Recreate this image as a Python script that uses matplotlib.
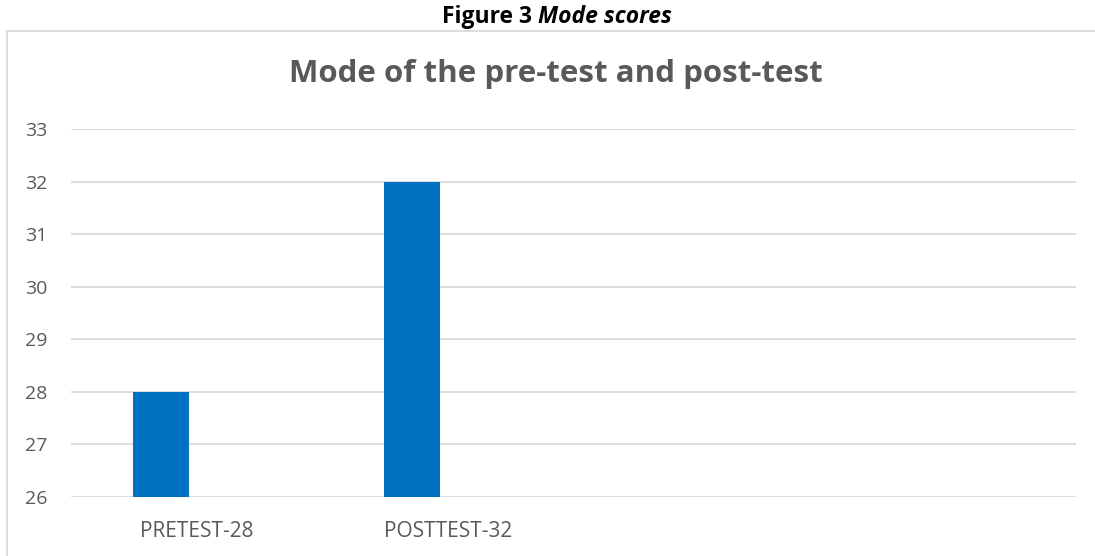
import numpy as np
import matplotlib.pyplot as plt
from matplotlib.patches import Rectangle

# data
categories = ["PRETEST-28", "POSTTEST-32", "", ""]
mode_scores = [28, 32, np.nan, np.nan]
y_ticks = [26, 27, 28, 29, 30, 31, 32, 33]

plt.rcParams['font.family'] = ['Open Sans', 'DejaVu Sans']

fig = plt.figure(figsize=(10.95, 5.56), dpi=100)
W, H = 1095, 556

# outer chart frame (right and bottom edges fall outside the picture)
frame = Rectangle((7 / W, -0.05), 1.2, 1 - 31 / H + 0.05,
                  transform=fig.transFigure, fill=False,
                  edgecolor='#D9D9D9', linewidth=1.3)
fig.add_artist(frame)

# caption: bold "Figure 3 " + bold italic "Mode scores", centred as a pair
cx, cy = 557 / W, 1 - 17 / H
t1 = fig.text(cx, cy, "Figure 3 ", ha='left', va='center',
              fontsize=16.5, fontweight='bold', color='black')
t2 = fig.text(cx, cy, "Mode scores", ha='left', va='center',
              fontsize=16.5, fontweight='bold', fontstyle='italic', color='black')
r = fig.canvas.get_renderer()
w1 = t1.get_window_extent(r).width / W
w2 = t2.get_window_extent(r).width / W
t1.set_x(cx - (w1 + w2) / 2)
t2.set_x(cx - (w1 + w2) / 2 + w1)

fig.text(556 / W, 1 - 74 / H, "Mode of the pre-test and post-test", ha='center',
         va='center', fontsize=22.5, fontweight='bold', color='#595959')

ax = fig.add_axes([71 / W, 1 - 497 / H, (1076 - 71) / W, (497 - 129) / H])
x = np.arange(len(categories))
ax.bar(x - 0.143, mode_scores, width=0.223, bottom=0, color='#0070C0')
ax.set_ylim(26, 33)
ax.set_xlim(-0.5, len(categories) - 0.5)
ax.set_yticks(y_ticks)
ax.set_xticks(x)
ax.set_xticklabels(categories)
ax.grid(axis='y', color='#D9D9D9', linewidth=1.3)
ax.set_axisbelow(True)
for s in ax.spines.values():
    s.set_visible(False)
ax.tick_params(axis='both', length=0, colors='#595959')
ax.tick_params(axis='y', labelsize=14, pad=17)
ax.tick_params(axis='x', labelsize=15, pad=17)

fig.savefig("out.png", dpi=100)
